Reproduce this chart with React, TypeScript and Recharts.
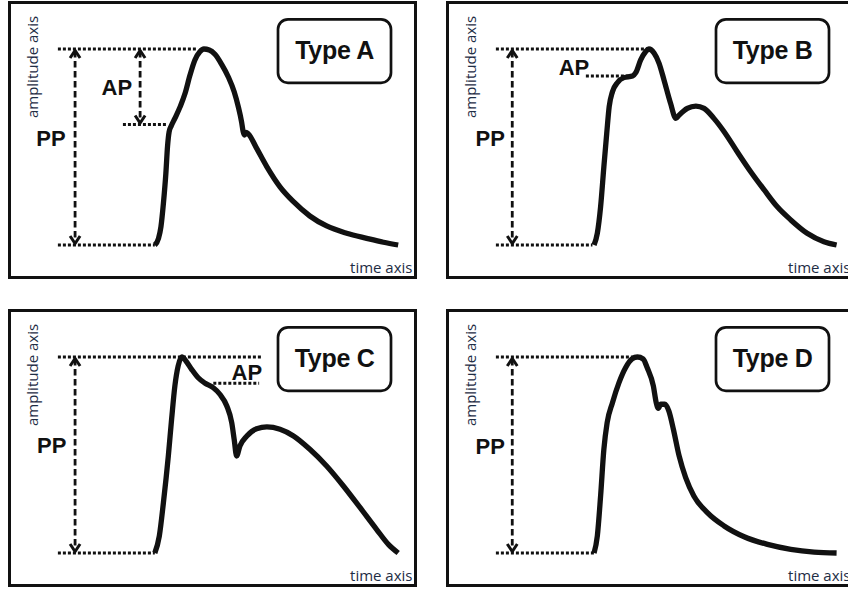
import React from 'react';
import { LineChart, Line, XAxis, YAxis, ReferenceLine, ReferenceDot } from 'recharts';

type Pt = [number, number];

// Pulse contours: [time (% of window), amplitude (% of pulse pressure)]
const waveA: Pt[] = [
  [35.9, 0], [36.8, 3.4], [37.4, 9.4], [38.0, 21.3], [38.6, 36.6], [39.0, 50.2],
  [39.4, 57.8], [39.9, 60.7], [40.8, 64.6], [42.1, 70.6], [43.3, 77.4], [44.5, 86.7],
  [45.7, 94.4], [46.9, 98.6], [47.9, 100], [49.2, 99.5], [50.6, 97.3], [52.2, 92.3],
  [53.9, 85.6], [55.3, 78.2], [56.3, 70.6], [57.1, 62.9], [57.5, 57.8], [57.8, 56.1],
  [58.2, 57.5], [58.8, 56.6], [60.8, 49.3], [63.3, 39.9], [66.5, 29.7], [69.8, 22.1],
  [73.8, 14.8], [77.9, 9.7], [82.8, 6.0], [87.7, 3.4], [91.8, 1.4], [95.4, 0],
];

const waveB: Pt[] = [
  [36.2, 0], [37.0, 6.0], [37.8, 19.5], [38.6, 39.9], [39.3, 57.0], [39.9, 70.6],
  [40.7, 78.2], [41.9, 82.8], [43.5, 85.4], [45.6, 86.2], [46.4, 87.9], [47.6, 94.4],
  [48.8, 98.6], [49.6, 100], [50.9, 97.8], [52.1, 92.7], [53.3, 84.2], [54.9, 72.3],
  [56.2, 64.6], [57.0, 66.3], [59.0, 69.7], [61.1, 70.9], [63.1, 69.7], [65.5, 64.6],
  [68.0, 57.8], [71.2, 47.6], [74.5, 37.4], [77.8, 28.1], [81.0, 19.5], [84.3, 12.8],
  [88.3, 6.0], [92.4, 1.7], [95.5, 0],
];

const waveC: Pt[] = [
  [35.9, 0], [37.0, 8.7], [38.0, 25.7], [39.2, 49.5], [40.0, 68.2], [40.8, 85.2],
  [41.6, 95.4], [42.5, 100], [43.5, 98.0], [44.9, 93.7], [46.5, 89.4], [48.2, 86.6],
  [50.2, 84.3], [51.8, 81.0], [53.5, 75.0], [54.7, 66.5], [55.3, 58.0], [55.9, 49.5],
  [56.7, 54.6], [58.4, 59.7], [60.8, 63.4], [63.3, 64.3], [66.5, 63.1], [69.8, 59.7],
  [73.8, 52.9], [77.9, 44.4], [82.0, 34.2], [86.1, 23.1], [90.1, 12.1], [93.0, 4.4],
  [95.4, 0],
];

const waveD: Pt[] = [
  [36.2, 0], [37.0, 8.7], [37.8, 29.1], [38.6, 52.9], [39.4, 66.5], [40.7, 76.7],
  [42.3, 86.9], [43.9, 94.5], [45.5, 99.0], [46.8, 100], [48.2, 99.0], [49.2, 94.5],
  [50.7, 85.2], [51.4, 76.7], [51.9, 73.8], [52.5, 75.9], [53.5, 75.9], [54.5, 72.4],
  [55.6, 63.1], [57.0, 49.5], [58.6, 38.4], [60.6, 29.1], [63.9, 20.6], [68.0, 13.8],
  [72.9, 8.3], [78.6, 4.4], [84.3, 1.9], [90.0, 0.5], [95.5, 0],
];

// Where the dotted guide lines start, in time units
const guideStart = 12.2;

// Panel titles
const titles = ['Type A', 'Type B', 'Type C', 'Type D'];

// Measurement guides for each contour
interface AugGuide {
  level: number;
  from: number;
  to: number;
  arrowAt?: number;
  label: Pt;
}
interface Guides {
  peakEnd: number;
  footEnd: number;
  ppArrowAt: number;
  ppLabel: Pt;
  ap?: AugGuide;
}

const guidesA: Guides = {
  peakEnd: 46.2, footEnd: 35.9, ppArrowAt: 16.4, ppLabel: [10.5, 54.6],
  ap: { level: 61.5, from: 28.1, to: 39.1, arrowAt: 32.3, label: [26.6, 80.4] },
};
const guidesB: Guides = {
  peakEnd: 49.2, footEnd: 35.8, ppArrowAt: 16.2, ppLabel: [10.8, 54.3],
  ap: { level: 86.2, from: 34.2, to: 46.0, label: [31.3, 90.8] },
};
const guidesC: Guides = {
  peakEnd: 62.0, footEnd: 35.9, ppArrowAt: 16.4, ppLabel: [10.7, 55.1],
  ap: { level: 86.6, from: 50.2, to: 61.4, label: [58.4, 92.1] },
};
const guidesD: Guides = {
  peakEnd: 46.7, footEnd: 36.2, ppArrowAt: 16.2, ppLabel: [10.8, 54.3],
};

const W = 409;
const H = 278;
const INK = '#111111';
const AXIS_INK = '#1e2d45';
const BOLD_FONT = '"Liberation Sans", Arial, sans-serif';
const AXIS_FONT = '"Open Sans", "Noto Sans", sans-serif';

// Dashed vertical double-headed arrow between two levels
const DoubleArrow = (p: any) => {
  const x = p.x1;
  const top = Math.min(p.y1, p.y2);
  const bottom = Math.max(p.y1, p.y2);
  const hw = 5;
  const hh = 7.5;
  return (
    <g>
      <line x1={x} y1={top + 2} x2={x} y2={bottom - 2} stroke={INK} strokeWidth={2.8} strokeDasharray="6.5 3.5" />
      <polyline
        points={`${x - hw},${top + 1.5 + hh} ${x},${top + 1.5} ${x + hw},${top + 1.5 + hh}`}
        fill="none" stroke={INK} strokeWidth={3}
      />
      <polyline
        points={`${x - hw},${bottom - 1.5 - hh} ${x},${bottom - 1.5} ${x + hw},${bottom - 1.5 - hh}`}
        fill="none" stroke={INK} strokeWidth={3}
      />
    </g>
  );
};

const textMark = (value: string) => (p: any) => (
  <text
    x={p.cx}
    y={p.cy + 7.8}
    textAnchor="middle"
    fontFamily={BOLD_FONT}
    fontWeight={700}
    fontSize={22}
    fill={INK}
  >
    {value}
  </text>
);

const dotted = { stroke: INK, strokeWidth: 3, strokeDasharray: '3 2' };

function Panel({ left, top, title, wave, guides }: { left: number; top: number; title: string; wave: Pt[]; guides: Guides }) {
  const data = wave.map(([t, a]) => ({ t, a }));
  const ap = guides.ap;
  return (
    <div style={{ position: 'absolute', left, top, width: W, height: H }}>
      <div style={{ position: 'absolute', left: 0, top: 0, width: W, height: H, border: `3.5px solid ${INK}`, boxSizing: 'border-box', background: '#fff' }} />
      <div style={{ position: 'absolute', left: 0, top: 0 }}>
        <LineChart width={W} height={H} data={data} margin={{ top: 48, right: 0, bottom: 34, left: 0 }}>
          <XAxis type="number" dataKey="t" domain={[0, 100]} hide />
          <YAxis type="number" domain={[0, 100]} hide />
          <ReferenceLine segment={[{ x: guideStart, y: 100 }, { x: guides.peakEnd, y: 100 }]} {...dotted} />
          <ReferenceLine segment={[{ x: guideStart, y: 0 }, { x: guides.footEnd, y: 0 }]} {...dotted} />
          {ap && <ReferenceLine segment={[{ x: ap.from, y: ap.level }, { x: ap.to, y: ap.level }]} {...dotted} />}
          <ReferenceLine
            segment={[{ x: guides.ppArrowAt, y: 0 }, { x: guides.ppArrowAt, y: 100 }]}
            shape={DoubleArrow}
          />
          {ap && ap.arrowAt !== undefined && (
            <ReferenceLine
              segment={[{ x: ap.arrowAt, y: ap.level }, { x: ap.arrowAt, y: 100 }]}
              shape={DoubleArrow}
            />
          )}
          <ReferenceDot x={guides.ppLabel[0]} y={guides.ppLabel[1]} r={1} shape={textMark('PP')} />
          {ap && <ReferenceDot x={ap.label[0]} y={ap.label[1]} r={1} shape={textMark('AP')} />}
          <Line
            type="monotone"
            dataKey="a"
            stroke={INK}
            strokeWidth={5.3}
            strokeLinejoin="round"
            dot={false}
            activeDot={false}
            isAnimationActive={false}
          />
        </LineChart>
      </div>
      <svg width={W} height={H} style={{ position: 'absolute', left: 0, top: 0, pointerEvents: 'none' }}>
        <rect x={270} y={18.3} width={113} height={63.5} rx={10} ry={10} fill="#fff" stroke={INK} strokeWidth={2.7} />
        <text x={326.6} y={58} textAnchor="middle" fontFamily={BOLD_FONT} fontWeight={700} fontSize={25} letterSpacing={-0.3} fill={INK}>
          {title}
        </text>
        <text
          transform="translate(29.5, 66) rotate(-90)"
          textAnchor="middle"
          fontFamily={AXIS_FONT}
          fontSize={15}
          fill={AXIS_INK}
        >
          amplitude axis
        </text>
        <text x={404.5} y={271.5} textAnchor="end" fontFamily={AXIS_FONT} fontSize={15} fill={AXIS_INK}>
          time axis
        </text>
      </svg>
    </div>
  );
}

export default function App() {
  return (
    <div style={{ position: 'absolute', left: 0, top: 0, width: 848, height: 592, overflow: 'hidden', background: '#fff' }}>
      <Panel left={8} top={1} title={titles[0]} wave={waveA} guides={guidesA} />
      <Panel left={446} top={1} title={titles[1]} wave={waveB} guides={guidesB} />
      <Panel left={8} top={309} title={titles[2]} wave={waveC} guides={guidesC} />
      <Panel left={446} top={309} title={titles[3]} wave={waveD} guides={guidesD} />
    </div>
  );
}
